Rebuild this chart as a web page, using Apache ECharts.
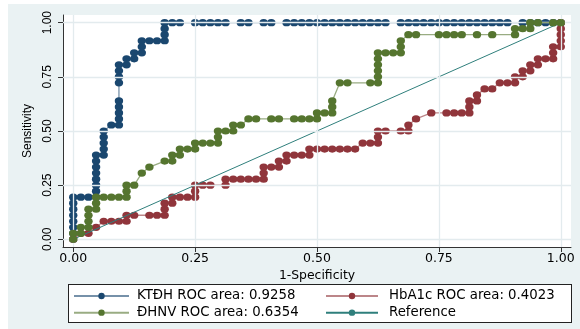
<!DOCTYPE html>
<html><head><meta charset="utf-8">
<script src="https://cdn.jsdelivr.net/npm/echarts@6/dist/echarts.min.js"></script>
<style>
html,body{margin:0;padding:0;background:#fff;}
#wrap{position:relative;width:580px;height:329px;overflow:hidden;}
#bg{position:absolute;left:8px;top:4px;width:572px;height:325px;background:#eaf2f3;}
#legbox{position:absolute;left:68px;top:284px;width:502px;height:37px;border:1px solid #222;background:#fff;}
#c{position:absolute;left:0;top:0;width:580px;height:329px;}
</style>
</head><body>
<div id="wrap"><div id="bg"></div><div id="legbox"></div><div id="c"></div></div>
<script>
// Group sizes (ROC step grid): false-positive denominator and true-positive denominator
const NEGATIVES = 64;
const POSITIVES = 36;

const tickValues = [0, 0.25, 0.5, 0.75, 1];
const tickLabels = ['0.00', '0.25', '0.50', '0.75', '1.00'];

const nameKTDH = 'KTĐH ROC area: 0.9258';
const nameHbA1c = 'HbA1c ROC area: 0.4023';
const nameDHNV = 'ĐHNV ROC area: 0.6354';
const nameRef = 'Reference';

// [false positives, true positives] at each cutpoint
const ktdhCounts = [[0,0],[0,1],[0,2],[0,3],[0,4],[0,5],[0,6],[0,7],[1,7],[2,7],[3,7],[3,8],[3,9],[3,10],[3,11],[3,12],[3,13],[3,14],[4,14],[4,15],[4,16],[4,17],[4,18],[5,19],[6,19],[6,20],[6,21],[6,22],[6,23],[6,26],[6,27],[6,28],[6,29],[7,29],[7,30],[8,30],[8,31],[9,31],[9,32],[9,33],[10,33],[11,33],[12,33],[12,34],[12,35],[12,36],[13,36],[14,36],[16,36],[17,36],[18,36],[19,36],[20,36],[22,36],[23,36],[25,36],[26,36],[28,36],[29,36],[30,36],[31,36],[32,36],[33,36],[34,36],[35,36],[36,36],[37,36],[38,36],[39,36],[40,36],[41,36],[43,36],[44,36],[45,36],[46,36],[47,36],[48,36],[49,36],[50,36],[51,36],[52,36],[53,36],[54,36],[55,36],[56,36],[57,36],[59,36],[60,36],[61,36],[62,36],[63,36],[64,36]];

const hba1cCounts = [[0,0],[1,1],[2,1],[3,2],[4,3],[5,3],[6,3],[7,3],[7,4],[8,4],[10,4],[11,4],[12,4],[12,5],[12,6],[13,6],[13,7],[14,7],[15,7],[16,7],[16,8],[16,9],[17,9],[18,9],[20,9],[20,10],[21,10],[22,10],[23,10],[24,10],[25,10],[25,11],[25,12],[26,12],[27,12],[27,13],[28,13],[28,14],[29,14],[30,14],[31,14],[31,15],[32,15],[33,15],[34,15],[35,15],[36,15],[37,15],[38,16],[39,16],[40,16],[40,17],[40,18],[41,18],[43,18],[44,18],[44,19],[45,20],[47,21],[49,21],[50,21],[51,21],[52,21],[52,22],[52,23],[53,23],[53,24],[54,25],[55,25],[56,26],[57,26],[58,26],[58,27],[59,27],[59,28],[60,28],[60,29],[61,29],[61,30],[62,30],[63,30],[63,31],[63,32],[64,32],[64,33],[64,34],[64,35],[64,36]];

const dhnvCounts = [[0,0],[0,1],[1,1],[1,2],[2,2],[2,3],[2,4],[2,5],[3,5],[3,6],[3,7],[4,7],[5,7],[6,7],[7,7],[7,8],[7,9],[8,9],[9,11],[10,12],[12,13],[13,13],[13,14],[14,14],[14,15],[15,15],[16,15],[16,16],[17,16],[18,16],[19,16],[19,17],[19,18],[20,18],[21,18],[21,19],[22,19],[23,20],[24,20],[26,20],[27,20],[29,20],[30,20],[31,20],[32,20],[32,21],[33,21],[34,21],[34,22],[34,23],[35,26],[36,26],[39,26],[40,26],[40,27],[40,28],[40,29],[40,30],[40,31],[41,31],[42,31],[43,31],[43,32],[43,33],[44,34],[45,34],[48,34],[49,34],[50,34],[51,34],[53,34],[55,34],[58,34],[58,35],[59,35],[60,35],[60,36],[61,36],[63,36],[64,36]];

const referenceLine = [[0, 0], [1, 1]];

const toRates = pts => pts.map(p => [p[0] / NEGATIVES, p[1] / POSITIVES]);

const NAVY = '#1a476f', MAROON = '#90353b', GREEN = '#55752f', TEAL = '#2f7f7c';
const FONT_H = 'DejaVu Sans';
const FONT_V = 'Liberation Sans';
const fmt = v => { const i = tickValues.findIndex(t => Math.abs(t - v) < 1e-9); return i >= 0 ? tickLabels[i] : ''; };

// connecting line (also supplies the legend icon with a dot)
function rocLine(name, pts, color, z) {
  return {
    name, type: 'line', data: toRates(pts), z,
    symbol: 'circle', symbolSize: 7, showSymbol: false,
    itemStyle: { color: color },
    lineStyle: { color: color, width: 1.3, opacity: 0.6 },
    emphasis: { disabled: true }, animation: false, silent: true
  };
}
// solid markers at every cutpoint
function rocDots(id, pts, color, z) {
  return {
    id, name: id, type: 'scatter', data: toRates(pts), z,
    symbol: 'circle', symbolSize: [8.4, 7.2],
    itemStyle: { color: color, opacity: 1, borderWidth: 0 },
    emphasis: { disabled: true }, animation: false, silent: true
  };
}

const chart = echarts.init(document.getElementById('c'), null, { renderer: 'canvas' });
chart.setOption({
  backgroundColor: 'transparent',
  animation: false,
  grid: { left: 63, right: 9, top: 15, bottom: 82, show: true, backgroundColor: '#fff', borderWidth: 0 },
  xAxis: {
    type: 'value', min: -0.021, max: 1.021,
    axisLine: { show: true, onZero: false, lineStyle: { color: '#333', width: 1 } },
    axisTick: { show: true, customValues: tickValues, length: 5, lineStyle: { color: '#333' } },
    axisLabel: { customValues: tickValues, formatter: fmt, margin: 5, fontFamily: FONT_H, fontSize: 12.5, color: '#000' },
    splitLine: { show: false },
    name: '1-Specificity', nameLocation: 'middle', nameGap: 19,
    nameTextStyle: { fontFamily: FONT_H, fontSize: 12.4, color: '#000' }
  },
  yAxis: {
    type: 'value', min: -0.0355, max: 1.0355,
    axisLine: { show: true, onZero: false, lineStyle: { color: '#333', width: 1 } },
    axisTick: { show: true, customValues: tickValues, length: 5, lineStyle: { color: '#333' } },
    axisLabel: { customValues: tickValues, formatter: fmt, rotate: 90, margin: 9, fontFamily: FONT_V, fontSize: 12, color: '#000' },
    splitLine: { show: false },
    name: 'Sensitivity', nameLocation: 'middle', nameGap: 22, nameRotate: 90,
    nameTextStyle: { fontFamily: FONT_V, fontSize: 12, color: '#000' }
  },
  legend: [
    { data: [nameKTDH, nameDHNV], orient: 'vertical', left: 73, top: 287.6, padding: 0, itemGap: 0,
      itemWidth: 55, itemHeight: 8, selectedMode: false,
      textStyle: { fontFamily: FONT_H, fontSize: 13.3, color: '#000', lineHeight: 16.7, padding: [0, 0, 0, 3] } },
    { data: [nameHbA1c, nameRef], orient: 'vertical', left: 325, top: 287.6, padding: 0, itemGap: 0,
      itemWidth: 52, itemHeight: 8, selectedMode: false,
      textStyle: { fontFamily: FONT_H, fontSize: 13.3, color: '#000', lineHeight: 16.7, padding: [0, 0, 0, 6] } }
  ],
  series: [
    {
      name: 'gridlines', type: 'line', data: referenceLine, z: 0, symbol: 'none', silent: true,
      lineStyle: { opacity: 0 }, animation: false,
      markLine: {
        silent: true, symbol: ['none', 'none'], label: { show: false }, animation: false,
        lineStyle: { color: '#e3ebee', width: 1.3, type: 'solid' },
        emphasis: { disabled: true },
        data: tickValues.map(v => ({ xAxis: v })).concat(tickValues.map(v => ({ yAxis: v })))
      }
    },
    rocLine(nameKTDH, ktdhCounts, NAVY, 2),
    rocDots('dotsKTDH', ktdhCounts, NAVY, 2),
    rocLine(nameHbA1c, hba1cCounts, MAROON, 3),
    rocDots('dotsHbA1c', hba1cCounts, MAROON, 3),
    {
      name: nameRef, type: 'line', data: referenceLine, z: 4, symbol: 'none',
      lineStyle: { color: TEAL, width: 1 }, itemStyle: { color: TEAL },
      emphasis: { disabled: true }, animation: false, silent: true
    },
    rocLine(nameDHNV, dhnvCounts, GREEN, 5),
    rocDots('dotsDHNV', dhnvCounts, GREEN, 5)
  ]
});
</script>
</body></html>
